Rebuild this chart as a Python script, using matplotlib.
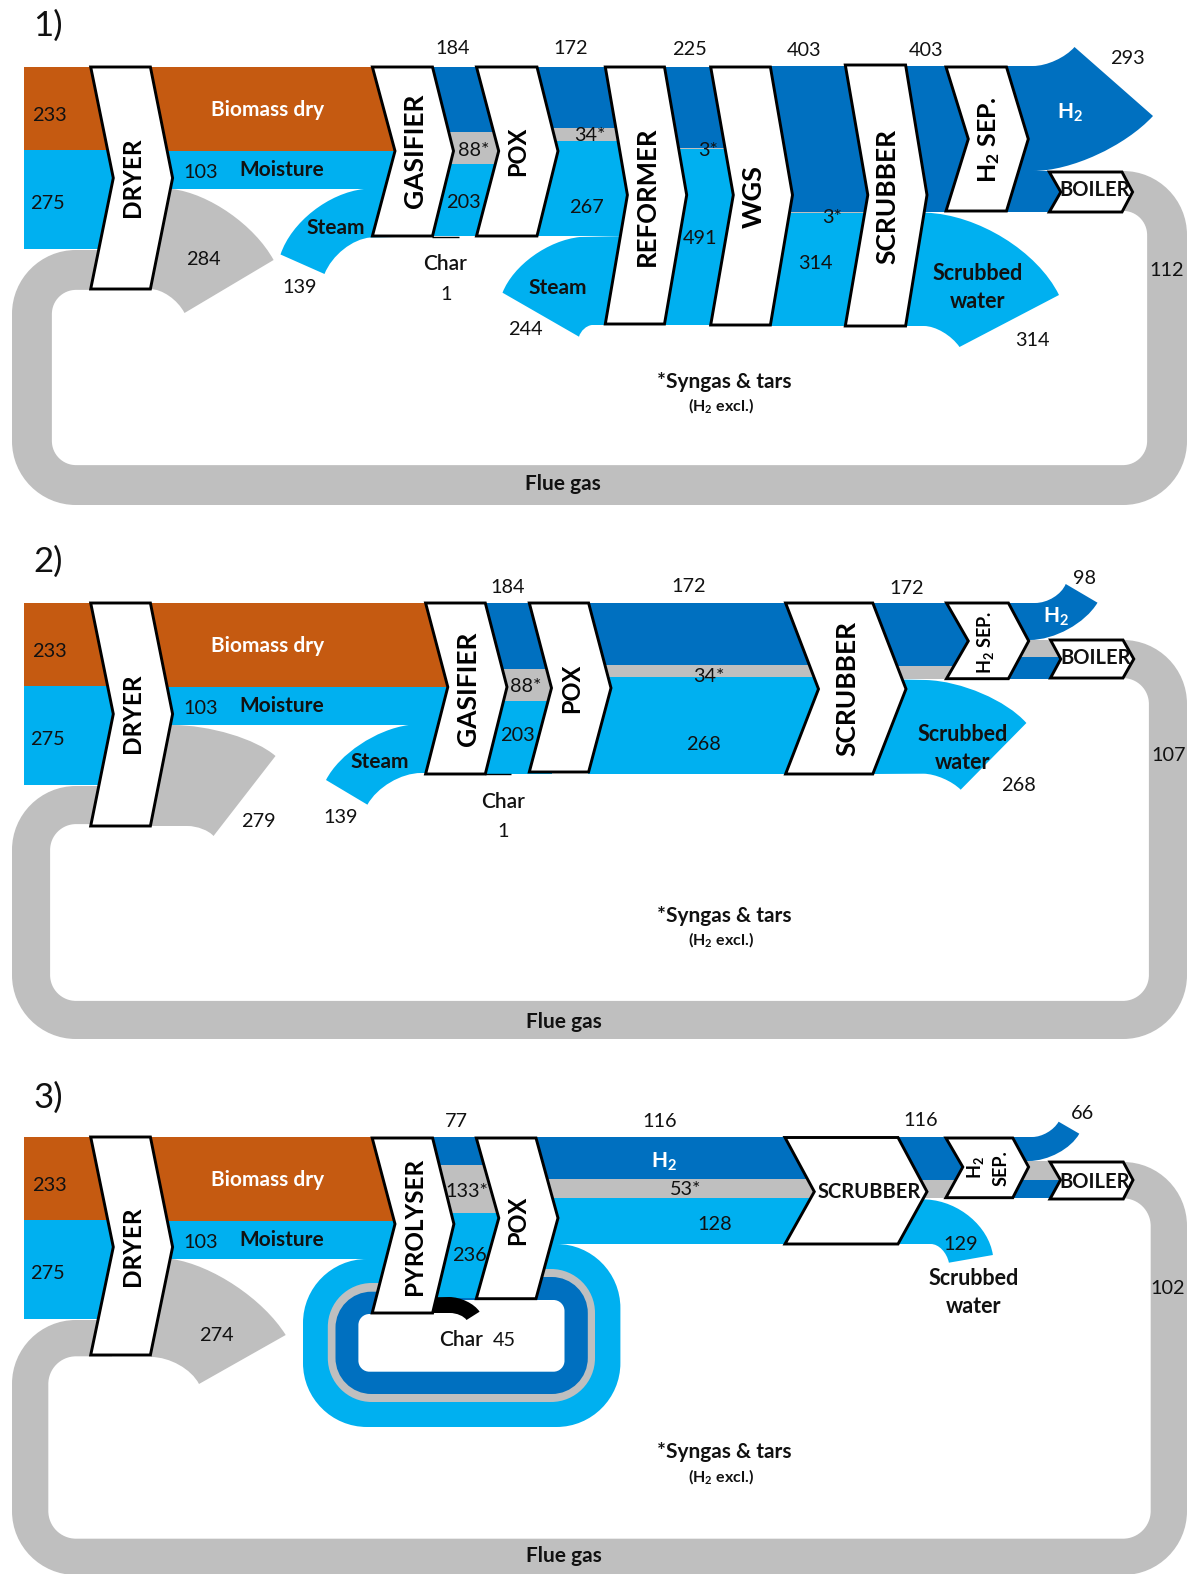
import matplotlib
matplotlib.use("Agg")
import matplotlib.pyplot as plt
from matplotlib.path import Path
from matplotlib.patches import PathPatch

plt.rcParams["font.family"] = ["Lato", "DejaVu Sans"]
plt.rcParams["mathtext.default"] = "regular"

BROWN = "#C55A11"
LIGHT = "#00B0F0"
DARK = "#0070C0"
GRAY = "#BFBFBF"
FLOW_COLORS = [DARK, GRAY, LIGHT]
PX_PER_UNIT = 0.356
K = 0.5523

# flows, numbers
feed = [233, 275]
moisture_out = 103

p1_exhaust = 284
p1_flue = 112
p1_steam = [139, 244]
p1_char = 1
p1_gasifier_out = [184, 88, 203]
p1_pox_out = [172, 34, 267]
p1_reformer_out = [225, 3, 491]
p1_wgs_out = [403, 3, 314]
p1_h2 = 293
p1_scrubbed = 314

p2_exhaust = 279
p2_flue = 107
p2_steam = 139
p2_char = 1
p2_gasifier_out = [184, 88, 203]
p2_pox_out = [172, 34, 268]
p2_h2 = 98
p2_scrubbed = 268

p3_exhaust = 274
p3_flue = 102
p3_char = 45
p3_pyrolyser_out = [77, 133, 236]
p3_pox_out = [116, 53, 128]
p3_h2 = 66
p3_scrubbed = 129

fig = plt.figure(figsize=(11.88, 15.74), dpi=100)
ax = fig.add_axes([0, 0, 1, 1])
ax.set_xlim(0, 1188)
ax.set_ylim(1574, 0)
ax.axis("off")


def build(pts):
    # a point is (x, y), or (cx, cy, x, y) for a rounded corner around cx, cy
    verts = [pts[0]]
    codes = [Path.MOVETO]
    for p in pts[1:]:
        if len(p) == 2:
            verts.append(p)
            codes.append(Path.LINETO)
        else:
            x0, y0 = verts[-1]
            cx, cy, x1, y1 = p
            verts += [(x0 + K * (cx - x0), y0 + K * (cy - y0)),
                      (x1 + K * (cx - x1), y1 + K * (cy - y1)), (x1, y1)]
            codes += [Path.CURVE4] * 3
    return verts, codes


def shape(color, pts):
    verts, codes = build(pts)
    verts.append(verts[0])
    codes.append(Path.CLOSEPOLY)
    ax.add_patch(PathPatch(Path(verts, codes), fc=color, ec="none", lw=0))


def band(x0, x1, top, bottom, color):
    shape(color, [(x0, top), (x1, top), (x1, bottom), (x0, bottom)])


def stack(x0, x1, top, bottom, values):
    # dark / gray / light layers, heights in proportion to the flows
    scale = (bottom - top) / sum(values)
    y = top
    for v, c in zip(values, FLOW_COLORS):
        band(x0, x1, y, y + v * scale, c)
        y += v * scale


def chevron(x0, x1, notch, tip, top, bottom, mid):
    pts = [(x0, top), (x1, top), (tip, mid), (x1, bottom), (x0, bottom), (notch, mid)]
    ax.add_patch(PathPatch(Path(pts + [pts[0]], closed=True), fc="white", ec="black",
                           lw=2.1, joinstyle="miter"))


def flue_loop(value, top, left, right, bottom, right_top, end_x):
    w = value * PX_PER_UNIT
    r = 64 - w / 2
    a, b = left + w / 2, right - w / 2
    t0, t1, y1 = top + w / 2, right_top + w / 2, bottom - w / 2
    verts, codes = build([(112, t0), (a + r, t0), (a, t0, a, t0 + r), (a, y1 - r),
                          (a, y1, a + r, y1), (b - r, y1), (b, y1, b, y1 - r),
                          (b, t1 + r), (b, t1, b - r, t1), (end_x, t1)])
    ax.add_patch(PathPatch(Path(verts, codes), fc="none", ec=GRAY, lw=w * 0.72,
                           capstyle="butt"))


def blob(color, left, right, top_l, top_r, bottom, r, step):
    shape(color, [(step, top_l), (left + r, top_l), (left, top_l, left, top_l + r),
                  (left, bottom - r), (left, bottom, left + r, bottom),
                  (right - r, bottom), (right, bottom, right, bottom - r),
                  (right, top_r + r), (right, top_r, right - r, top_r), (step, top_r)])


def txt(x, y, s, size=14.3, weight="normal", color="#111111"):
    ax.text(x, y + 1.5, s, fontsize=size, fontweight=weight, color=color,
            ha="center", va="center", zorder=5)


def bold(x, y, s, size=15, color="#111111"):
    txt(x, y, s, size, "bold", color)


def unit(x, y, s, size=17.5):
    # labels on the white process blocks
    ax.text(x, y, s, fontsize=size, fontweight="bold", color="black", rotation=90,
            ha="center", va="center", zorder=5)


def front_end(top, end_x):
    h = feed[0] * PX_PER_UNIT
    band(24, 114, top, top + h, BROWN)
    band(24, 114, top + h, top + sum(feed) * PX_PER_UNIT + 1, LIGHT)
    band(150, end_x, top, top + h + 1, BROWN)
    band(150, end_x, top + h + 1, top + h + 2 + moisture_out * PX_PER_UNIT, LIGHT)


def front_end_top(top, block_bottom, mid):
    chevron(90.7, 150.4, 113.3, 172.6, top, block_bottom, mid)
    unit(133, mid - 1, "DRYER")
    txt(49, top + 47, str(feed[0]))
    txt(47, top + 135, str(feed[1]))
    bold(268, top + 42, "Biomass dry", 15, "white")
    txt(201, top + 104, str(moisture_out))
    bold(282, top + 102, "Moisture", 15)


def title(y, s):
    txt(48, y, s, 25)


def note(dy):
    bold(724, 380 + dy, "*Syngas & tars", 15)
    txt(721, 404 + dy, "(H$_2$ excl.)", 11.5, "bold")


# ---- panel 1
title(24, "1)")
flue_loop(p1_flue, 250, 12, 1187, 505, 171, 1118)
front_end(67, 395)
shape(GRAY, [(172, 189), (239, 197, 273.6, 260), (184.5, 313), (172, 289, 150, 289), (150, 189)])
shape(LIGHT, [(364, 189), (300, 196, 280.5, 254.5), (324.5, 274), (338, 240, 370.5, 237.5),
              (395, 237), (395, 189)])
stack(432, 500, 67, 236, p1_gasifier_out)
ax.plot([432, 459], [236.8, 236.8], color="black", lw=1, solid_capstyle="butt")
stack(537, 628, 67, 236, p1_pox_out)
shape(LIGHT, [(580, 237), (522, 243, 502.5, 292.7), (579, 336.7), (582, 326, 592, 325), (628, 325),
              (628, 236)])
stack(664, 734, 67, 325, p1_reformer_out)
stack(770, 869, 66, 326, p1_wgs_out)
band(905, 969, 66, 212, DARK)
shape(LIGHT, [(905, 212), (926, 212.7), (1020, 216, 1059, 295), (959.5, 347), (945, 326, 924, 326),
              (905, 326)])
shape(DARK, [(1006, 66), (1033, 66), (1058, 66, 1074.5, 47), (1153, 116), (1102, 171, 1033, 171),
             (1006, 171)])
band(1006, 1062, 171, 212, DARK)

front_end_top(67, 289, 178)
chevron(372.4, 432.5, 395, 453.5, 67, 236, 151)
chevron(476.5, 537, 498.7, 558, 67, 236, 151)
chevron(605.3, 664.5, 627.4, 686.7, 67, 324, 195)
chevron(710.7, 770.4, 733.3, 792.5, 67, 325, 195)
chevron(845.3, 905.6, 867.8, 927, 65, 326, 195)
chevron(946, 1006.5, 968.3, 1028.3, 67, 211, 139)
chevron(1049.3, 1122, 1060.8, 1132.6, 172, 212, 192)
unit(415, 151, "GASIFIER", 19)
unit(518, 151, "POX", 17)
unit(647, 196, "REFORMER", 18.5)
unit(754, 197, "WGS", 19.5)
unit(887, 196, "SCRUBBER", 19)
unit(989, 140, "H$_2$ SEP.", 18)
bold(1095, 188, "BOILER", 14.5)

txt(203, 258, str(p1_exhaust))
bold(336, 226, "Steam")
txt(300, 286, str(p1_steam[0]))
txt(453, 47, str(p1_gasifier_out[0]))
txt(474, 149, f"{p1_gasifier_out[1]}*")
txt(463, 201, str(p1_gasifier_out[2]))
txt(445, 263, "Char", 15, "semibold")
txt(446, 293, str(p1_char))
txt(571, 47, str(p1_pox_out[0]))
txt(590, 134, f"{p1_pox_out[1]}*")
txt(586, 206, str(p1_pox_out[2]))
bold(558, 286, "Steam")
txt(525, 328, str(p1_steam[1]))
txt(689, 48, str(p1_reformer_out[0]))
txt(708, 149, f"{p1_reformer_out[1]}*")
txt(700, 237, str(p1_reformer_out[2]))
txt(804, 49, str(p1_wgs_out[0]))
txt(832, 216, f"{p1_wgs_out[1]}*")
txt(815, 262, str(p1_wgs_out[2]))
txt(926, 49, str(p1_wgs_out[0]))
txt(1127, 57, str(p1_h2))
bold(1070, 111, "H$_2$", 15, "white")
txt(1167, 269, str(p1_flue))
bold(978, 272, "Scrubbed", 15.5)
bold(978, 300, "water", 15.5)
txt(1032, 339, str(p1_scrubbed))
note(0)
bold(563, 483, "Flue gas")

# ---- panel 2
title(560, "2)")
flue_loop(p2_flue, 786, 12, 1187, 1039, 640, 1118)
front_end(603, 448)
shape(GRAY, [(172, 725), (240, 725, 275.5, 756), (213.5, 836), (205, 826, 187.5, 826), (150, 826),
             (150, 725)])
shape(LIGHT, [(408.7, 725), (350, 733, 326, 780), (367.4, 804.7), (385, 773, 421, 773),
              (448, 773), (448, 725)])
stack(485, 552, 603, 774, p2_gasifier_out)
ax.plot([485, 511], [774, 774], color="black", lw=1, solid_capstyle="butt")
stack(588, 819, 603, 774, p2_pox_out)
band(872, 969, 603, 666, DARK)
band(872, 969, 666, 679, GRAY)
shape(LIGHT, [(872, 679), (926, 680), (990, 682, 1026.4, 723), (960.7, 789.7), (945, 774, 923.6, 773.7),
              (872, 774)])
shape(DARK, [(1008, 603), (1035, 603), (1058, 603, 1065.7, 584), (1097.5, 602.7),
             (1075, 640, 1029.5, 640), (1008, 640)])
band(1008, 1062, 640, 657, GRAY)
band(1008, 1062, 657, 679, DARK)

front_end_top(603, 826, 714)
chevron(425.6, 485.3, 447.8, 507, 603, 774, 687)
chevron(529.3, 588.6, 551.5, 611, 603, 772, 688)
chevron(785.6, 872.8, 818.5, 906, 603, 774, 689)
chevron(946.5, 1008.4, 968.3, 1028.7, 603, 678.7, 641)
chevron(1050.5, 1123, 1060.8, 1133.8, 640, 678, 659)
unit(468, 689, "GASIFIER", 19)
unit(572, 688, "POX", 17)
unit(847, 688, "SCRUBBER", 19)
unit(986, 642, "H$_2$ SEP.", 13)
bold(1096, 657, "BOILER", 14.5)

txt(258, 820, str(p2_exhaust))
bold(380, 761, "Steam")
txt(341, 816, str(p2_steam))
txt(508, 586, str(p2_gasifier_out[0]))
txt(526, 685, f"{p2_gasifier_out[1]}*")
txt(517, 734, str(p2_gasifier_out[2]))
txt(503, 801, "Char", 15, "semibold")
txt(503, 830, str(p2_char))
txt(689, 585, str(p2_pox_out[0]))
txt(709, 675, f"{p2_pox_out[1]}*")
txt(703, 743, str(p2_pox_out[2]))
txt(907, 587, str(p2_pox_out[0]))
txt(1085, 577, str(p2_h2))
bold(1056, 615, "H$_2$", 15, "white")
txt(1169, 754, str(p2_flue))
bold(963, 733, "Scrubbed", 15.5)
bold(963, 761, "water", 15.5)
txt(1018, 784, str(p2_scrubbed))
note(534)
bold(564, 1020, "Flue gas")

# ---- panel 3
title(1096, "3)")
flue_loop(p3_flue, 1320, 12, 1187, 1575, 1162, 1118)
front_end(1137, 396)
shape(GRAY, [(172, 1259), (245, 1270, 285.7, 1335), (199, 1384), (185, 1357, 151, 1357), (150, 1259)])
# char loop around the pyrolyser and POX, nested rounded layers
blob(LIGHT, 303, 620.4, 1259, 1244, 1427, 64, 432)
blob(GRAY, 327.8, 595, 1283, 1269, 1402, 44, 432)
blob(DARK, 335.5, 587.8, 1291.7, 1277, 1394, 36, 432)
blob("white", 358.4, 564.5, 1314, 1300, 1371.7, 11, 432)
stack(432, 500, 1137, 1298, p3_pyrolyser_out)
stack(536, 815, 1137, 1244, p3_pox_out)
shape("black", [(432.6, 1297.3), (449, 1297), (470, 1297, 479.6, 1311.7), (466.5, 1320),
                (462, 1313, 450, 1313), (432.6, 1313)])
band(898, 963, 1137, 1180, DARK)
band(898, 963, 1180, 1198, GRAY)
shape(LIGHT, [(898, 1199), (927, 1199.5), (985, 1203, 992.9, 1255), (948.9, 1262.7),
              (945, 1244, 930.8, 1244), (898, 1244)])
shape(DARK, [(1012, 1137), (1032.3, 1137), (1050, 1137, 1058.6, 1121.7), (1079.3, 1133.7),
             (1064, 1161, 1028.6, 1161), (1012, 1161)])
band(1012, 1062, 1161, 1180, GRAY)
band(1012, 1062, 1180, 1198, DARK)

front_end_top(1137, 1355, 1247)
chevron(372.2, 432.6, 395, 453.9, 1138, 1313, 1224)
chevron(476.3, 536, 498.8, 558, 1138, 1298.7, 1218)
chevron(785, 898, 814.3, 927, 1137.5, 1244, 1191.7)
chevron(945.9, 1012.8, 962.8, 1028.6, 1138, 1197.7, 1167)
chevron(1050, 1123.3, 1060.5, 1133, 1162, 1199, 1180)
unit(415, 1226, "PYROLYSER")
unit(518, 1220, "POX", 17)
bold(869, 1191, "SCRUBBER", 14.5)
unit(976, 1168, "H$_2$", 13)
unit(1001, 1168, "SEP.", 13)
bold(1095, 1181, "BOILER", 14.5)

txt(216, 1334, str(p3_exhaust))
txt(456, 1120, str(p3_pyrolyser_out[0]))
txt(467, 1190, f"{p3_pyrolyser_out[1]}*")
txt(469, 1254, str(p3_pyrolyser_out[2]))
txt(461, 1339, "Char", 15, "semibold")
txt(504, 1339, str(p3_char))
bold(664, 1160, "H$_2$", 15, "white")
txt(660, 1120, str(p3_pox_out[0]))
txt(686, 1188, f"{p3_pox_out[1]}*")
txt(715, 1223, str(p3_pox_out[2]))
txt(921, 1119, str(p3_pox_out[0]))
txt(1083, 1112, str(p3_h2))
txt(961, 1243, str(p3_scrubbed))
bold(974, 1277, "Scrubbed", 15.5)
bold(974, 1305, "water", 15.5)
txt(1168, 1287, str(p3_flue))
note(1071)
bold(564, 1555, "Flue gas")

fig.savefig("out.png", dpi=100, facecolor="white")
